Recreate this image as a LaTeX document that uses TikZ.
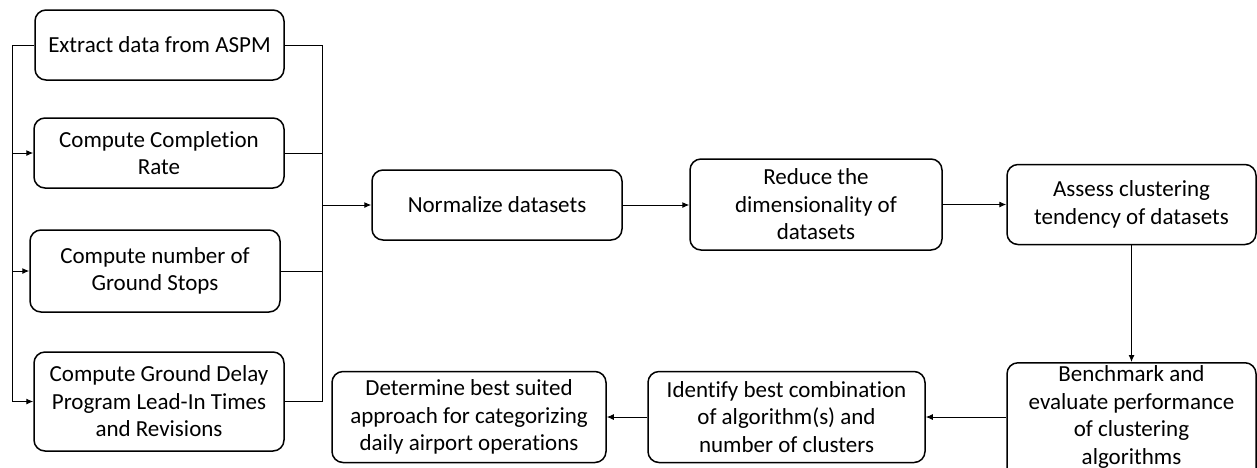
\documentclass[tikz,border=0pt]{standalone}
\usepackage{fontspec}
\setmainfont{Carlito}[Ligatures=CommonOff]
\usetikzlibrary{arrows.meta}
\tikzset{
  box/.style={draw, line width=1.5pt, rounded corners=11pt, align=center,
    inner sep=2pt, font=\fontsize{23}{27.5}\selectfont},
  wire/.style={line width=1pt},
  arr/.style={wire, -{Latex[length=7pt,width=6pt]}},
  txt/.style={align=center, inner sep=0pt, font=\fontsize{23}{27.5}\selectfont}
}
\begin{document}
\begin{tikzpicture}[x=1pt, y=-1pt]
\clip (0,0) rectangle (1257,467);
\fill[white] (0,0) rectangle (1257,467);

% input steps
\node[box, minimum width=249pt, minimum height=70pt] (b1) at (159.5,45) {Extract data from ASPM};
\node[box, minimum width=250pt, minimum height=70pt] (b2) at (159,153) {Compute Completion\\Rate};
\node[box, minimum width=250pt, minimum height=82pt] (b3) at (155,271) {Compute number of\\Ground Stops};
\node[box, minimum width=250pt, minimum height=99pt] (b4) at (159,401.5) {Compute Ground Delay\\Program Lead-In Times\\and Revisions};

% main pipeline
\node[box, minimum width=250pt, minimum height=70pt] (norm) at (497,205) {Normalize datasets};
\node[box, minimum width=252pt, minimum height=91pt] (red) at (816,204.5) {Reduce the\\dimensionality of\\datasets};
\node[box, minimum width=249pt, minimum height=80pt] (ass) at (1131.5,204.5) {Assess clustering\\tendency of datasets};
\node[box, minimum width=249pt, minimum height=118pt, anchor=north] (bench) at (1131.5,362) {};
\node[txt] (benchtxt) at (1131.5,417) {Benchmark and\\evaluate performance\\of clustering\\algorithms};
\node[box, minimum width=277pt, minimum height=91pt] (ident) at (786.5,417) {Identify best combination\\of algorithm(s) and\\number of clusters};
\node[box, minimum width=274pt, minimum height=91pt] (det) at (469,417) {Determine best suited\\approach for categorizing\\daily airport operations};

% feedback bus on the left
\coordinate (lb) at (12,0);
\draw[wire] (b1.west) -- (b1.west -| lb) -- (b4.west -| lb);
\draw[arr] (b2.west -| lb) -- (b2.west);
\draw[arr] (b3.west -| lb) -- (b3.west);
\draw[arr] (b4.west -| lb) -- (b4.west);

% collecting bus on the right
\coordinate (rb) at (322,0);
\draw[wire] (b1.east) -- (b1.east -| rb) -- (b4.east -| rb) -- (b4.east);
\draw[wire] (b2.east) -- (b2.east -| rb);
\draw[wire] (b3.east) -- (b3.east -| rb);
\draw[arr] (norm.west -| rb) -- (norm.west);

% pipeline arrows
\draw[arr] (norm.east) -- (norm.east -| red.west);
\draw[arr] (red.east |- ass.west) -- (ass.west);
\draw[arr] (ass.south) -- (bench.north);
\draw[arr] (bench.west |- ident.east) -- (ident.east);
\draw[arr] (ident.west) -- (det.east);
\end{tikzpicture}
\end{document}
